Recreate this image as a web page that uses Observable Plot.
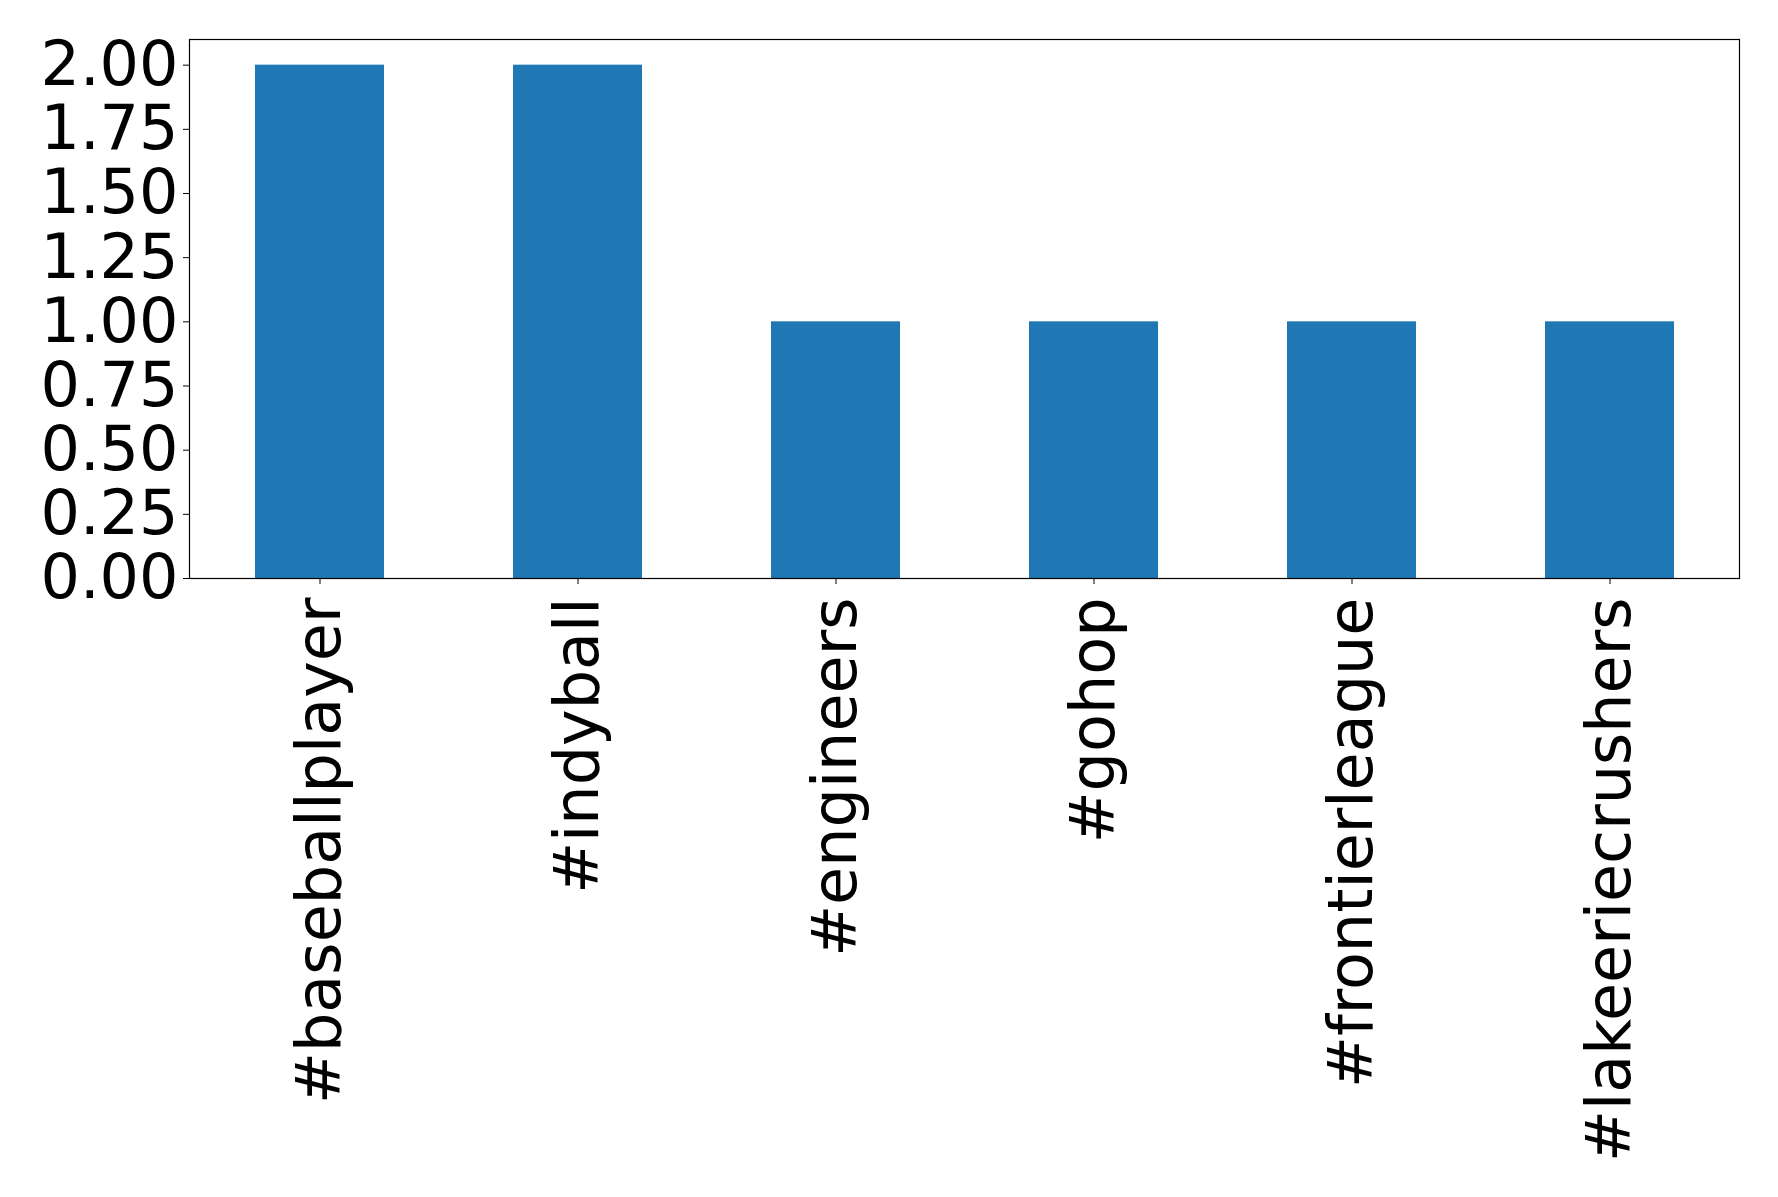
<!DOCTYPE html>
<html>
<head>
<meta charset="utf-8">
<script src="https://cdn.jsdelivr.net/npm/d3@7"></script>
<script src="https://cdn.jsdelivr.net/npm/@observablehq/plot@0.6"></script>
<style>
  html, body { margin: 0; padding: 0; background: #fff; }
  #chart svg { display: block; }
</style>
</head>
<body>
<div id="chart"></div>
<script>
const categories = ["#baseballplayer", "#indyball", "#engineers", "#gohop", "#frontierleague", "#lakeeriecrushers"];
const counts = [2, 2, 1, 1, 1, 1];
const yTicks = [0, 0.25, 0.5, 0.75, 1.0, 1.25, 1.5, 1.75, 2.0];

const data = categories.map((c, i) => ({tag: c, count: counts[i]}));

const chart = Plot.plot({
  width: 1778,
  height: 1197,
  marginLeft: 189,
  marginRight: 39,
  marginTop: 39,
  marginBottom: 619,
  style: {fontFamily: "DejaVu Sans", fontSize: "62px", color: "#000", background: "#fff"},
  x: {domain: categories, paddingInner: 0.5, paddingOuter: 0.25, label: null},
  y: {domain: [0, 2.1], label: null},
  marks: [
    Plot.barY(data, {x: "tag", y: "count", fill: "#1f77b4"}),
    Plot.axisY({ticks: yTicks, tickFormat: d => d.toFixed(2), tickSize: 6, tickPadding: 5, fontSize: 62, label: null}),
    Plot.axisX({tickRotate: -90, tickSize: 6, tickPadding: 13, fontSize: 62, label: null}),
    Plot.frame({stroke: "#000", strokeWidth: 1.2})
  ]
});
document.getElementById("chart").appendChild(chart);
</script>
</body>
</html>
